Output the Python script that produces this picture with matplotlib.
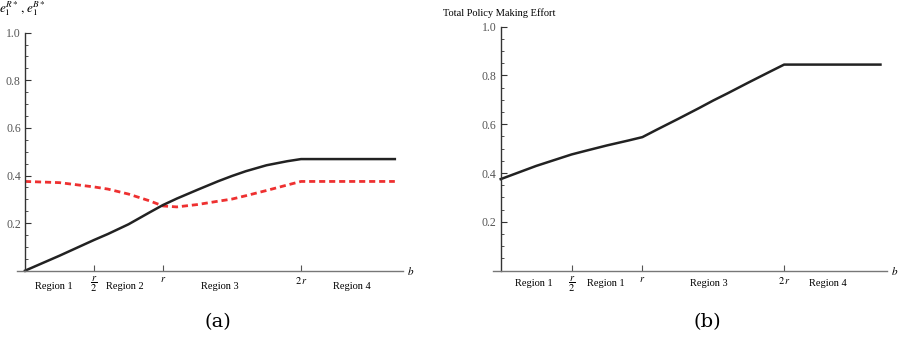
import numpy as np
import matplotlib.pyplot as plt
from matplotlib.ticker import MultipleLocator, FixedLocator

plt.rcParams['font.family'] = 'Liberation Serif'
plt.rcParams['mathtext.fontset'] = 'stix'

# values, b in units of r
b = [0.0, 0.25, 0.5, 0.6, 0.75, 0.9, 1.0, 1.1, 1.25, 1.4, 1.5, 1.6, 1.75, 1.9, 2.0, 2.68]
e_R = [0.0, 0.063, 0.129, 0.154, 0.195, 0.244, 0.276, 0.303, 0.340, 0.376,
       0.398, 0.418, 0.443, 0.460, 0.469, 0.469]
e_B = [0.375, 0.370, 0.352, 0.343, 0.322, 0.294, 0.272, 0.268, 0.278, 0.292,
       0.301, 0.315, 0.337, 0.360, 0.375, 0.375]
total = [0.375, 0.429, 0.476, 0.491, 0.513, 0.533, 0.547, 0.577, 0.621, 0.666,
         0.697, 0.726, 0.771, 0.815, 0.844, 0.844]

tick_pos = [0.5, 1.0, 2.0]
tick_labels = [r'$\dfrac{r}{2}$', r'$r$', r'$2\,r$']
region_a = ['Region 1', 'Region 2', 'Region 3', 'Region 4']
region_b = ['Region 1', 'Region 1', 'Region 3', 'Region 4']
region_pos_a = [0.21, 0.72, 1.41, 2.37]
region_pos_b = [0.235, 0.74, 1.47, 2.31]

W, H = 900, 337
fig = plt.figure(figsize=(9, 3.37), dpi=100)


def make_axes(x0, xr, ytop, ybot, xleft, xright):
    # pixel geometry -> figure fractions
    lo = (xleft - x0) / xr
    hi = (xright - x0) / xr
    ax = fig.add_axes([xleft / W, (H - ybot) / H, (xright - xleft) / W, (ybot - ytop) / H])
    ax.set_xlim(lo, hi)
    ax.set_ylim(0, 1.0)
    for s in ['top', 'right']:
        ax.spines[s].set_visible(False)
    ax.spines['left'].set_position(('data', 0))
    ax.spines['left'].set_color('#333333')
    ax.spines['bottom'].set_color('#777777')
    ax.spines['left'].set_linewidth(1.0)
    ax.spines['bottom'].set_linewidth(1.0)
    ax.yaxis.set_major_locator(FixedLocator([0.2, 0.4, 0.6, 0.8, 1.0]))
    ax.yaxis.set_minor_locator(MultipleLocator(0.05))
    ax.tick_params(axis='y', which='major', direction='in', length=4, width=0.8,
                   color='#333333', labelsize=8.5, labelcolor='#555555', pad=3)
    ax.tick_params(axis='y', which='minor', direction='in', length=2.5, width=0.6,
                   color='#333333')
    ax.set_xticks(tick_pos)
    ax.set_xticklabels(tick_labels)
    ax.tick_params(axis='x', direction='in', length=4, width=0.8, color='#555555',
                   labelsize=7.5, pad=3)
    ax.text(hi + 0.03, 0, r'$b$', fontsize=8, va='center', ha='left', clip_on=False)
    return ax


ax1 = make_axes(25, 138.0, 32.7, 270.7, 16.7, 403)
ax1.plot(b, e_B, color='#ee3030', lw=2.0, ls=(0, (2.2, 1.4)), clip_on=False)
ax1.plot(b, e_R, color='#222222', lw=1.8, clip_on=False)
for p, t in zip(region_pos_a, region_a):
    ax1.text(p, -0.065, t, fontsize=7.5, ha='center', va='center')
ax1.text(-0.19, 1.06, r'$e_1^{R*}\,,e_1^{B*}$', fontsize=9.5, ha='left', va='bottom',
         clip_on=False)

ax2 = make_axes(500.7, 141.7, 26.5, 270.7, 492.7, 887)
ax2.plot(b, total, color='#222222', lw=1.8, clip_on=False)
for p, t in zip(region_pos_b, region_b):
    ax2.text(p, -0.052, t, fontsize=7.5, ha='center', va='center')
ax2.text(-0.41, 1.035, 'Total Policy Making Effort', fontsize=7.5, ha='left', va='bottom',
         clip_on=False)

fig.text(218 / W, 1 - 322 / H, '(a)', fontsize=14, ha='center', va='center',
         family='DejaVu Serif')
fig.text(707 / W, 1 - 322 / H, '(b)', fontsize=14, ha='center', va='center',
         family='DejaVu Serif')

plt.savefig('out.png', dpi=100)
plt.close()
